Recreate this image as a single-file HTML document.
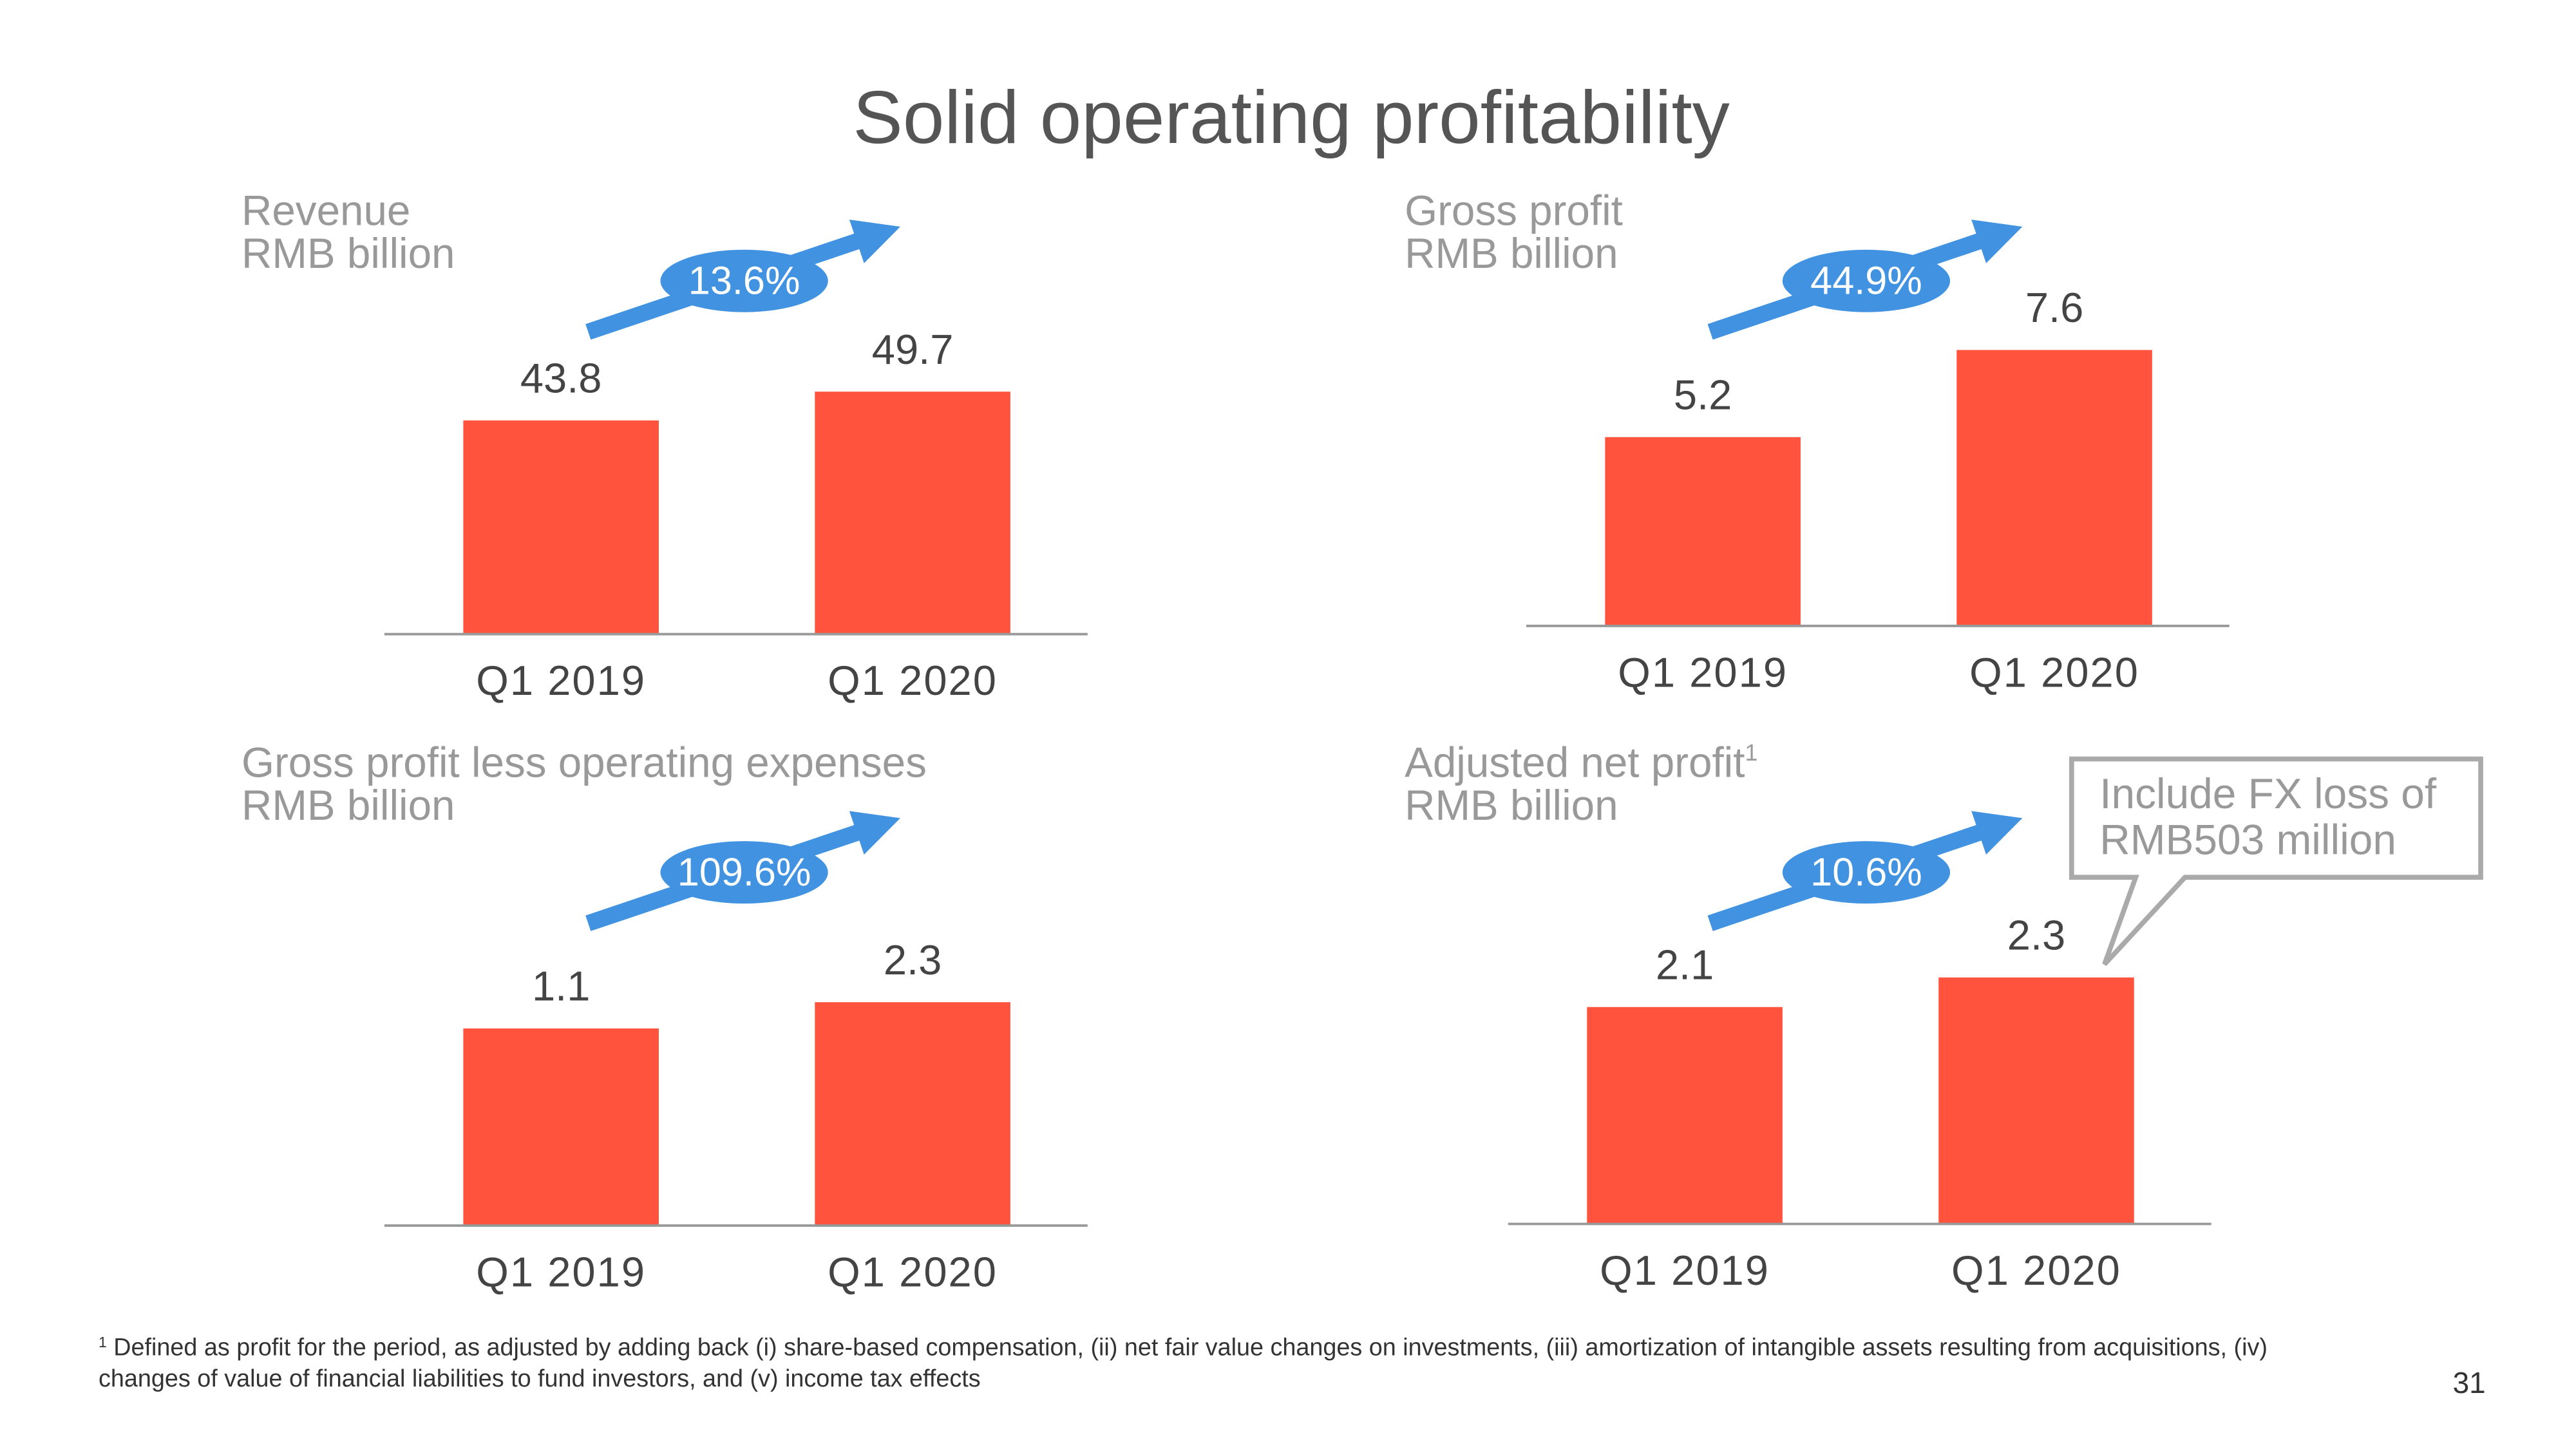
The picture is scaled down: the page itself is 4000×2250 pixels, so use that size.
<!DOCTYPE html>
<html><head><meta charset="utf-8"><style>
html,body{margin:0;padding:0;background:#fff}
svg{display:block}
text{font-family:"Liberation Sans",sans-serif}
</style></head><body>
<svg id="s" width="4000" height="2250" viewBox="0 0 1568 882" preserveAspectRatio="none">
<text x="786" y="87" text-anchor="middle" font-size="45.5" fill="#555">Solid operating profitability</text>
<text x="60" y="825" font-size="14.8" fill="#333"><tspan font-size="9" dy="-5">1</tspan><tspan dy="5"> Defined as profit for the period, as adjusted by adding back (i) share-based compensation, (ii) net fair value changes on investments, (iii) amortization of intangible assets resulting from acquisitions, (iv)</tspan></text>
<text x="60" y="844" font-size="14.8" fill="#333">changes of value of financial liabilities to fund investors, and (v) income tax effects</text>
<text x="1513" y="848" text-anchor="end" font-size="18" fill="#333">31</text>
<g>
<path d="M1261,462 H1510 V534 H1330 L1281,587 L1300,534 H1261 Z" fill="#fff" stroke="#aaa" stroke-width="3"/>
<text x="1278" y="492" font-size="25.8" fill="#999">Include FX loss of</text>
<text x="1278" y="520" font-size="25.8" fill="#999">RMB503 million</text>
</g>
</svg>
<script>
const categories = ["Q1 2019", "Q1 2020"];
const revenueValues = [43.8, 49.7];
const grossProfitValues = [5.2, 7.6];
const opProfitValues = [1.1, 2.3];
const adjNetValues = [2.1, 2.3];
const growthLabels = ["13.6%", "44.9%", "109.6%", "10.6%"];
const chartTitles = ["Revenue", "Gross profit", "Gross profit less operating expenses", "Adjusted net profit"];
const NS = "http://www.w3.org/2000/svg";
const svg = document.getElementById('s');
function mk(tag, attrs, parent) {
  const e = document.createElementNS(NS, tag);
  for (const k in attrs) e.setAttribute(k, attrs[k]);
  (parent || svg).appendChild(e);
  return e;
}
const charts = [
  {vals: revenueValues, bx: 282, base: 386, yMin: 0, ppu: 2.97, tx: 147, ty: 137, ax: 358, ay: 202},
  {vals: grossProfitValues, bx: 977, base: 381, yMin: 0, ppu: 22.1, tx: 855, ty: 137, ax: 1041, ay: 202},
  {vals: opProfitValues, bx: 282, base: 746, yMin: -7.9, ppu: 13.33, tx: 147, ty: 473, ax: 358, ay: 562},
  {vals: adjNetValues, bx: 966, base: 745, yMin: 0.633, ppu: 90, tx: 855, ty: 473, ax: 1041, ay: 562}
];
charts.forEach((c, i) => {
  const g = mk('g', {});
  
  
  const y = v => c.base - (v - c.yMin) * c.ppu;
  const xb = j => c.bx + j * 214;
  const t1 = mk('text', {x: c.tx, y: c.ty, 'font-size': 25.7, fill: '#999'}, g);
  t1.textContent = chartTitles[i];
  if (i === 3) { const sp = mk('tspan', {'font-size': 14, dy: -10}, t1); sp.textContent = '1'; }
  
  
  const t2 = mk('text', {x: c.tx, y: c.ty + 26, 'font-size': 25.7, fill: '#999'}, g);
  t2.textContent = 'RMB billion';
  
  
  c.vals.forEach((v, j) => {
    const r = mk('rect', {x: xb(j), y: y(v), width: 119, height: c.base - y(v), fill: '#ff533d'}, g);
    
    
    const vl = mk('text', {x: xb(j) + 59.5, y: y(v) - 17, 'text-anchor': 'middle', 'font-size': 25.5, fill: '#444'}, g);
    vl.textContent = v.toFixed(1);
    
    
    const cl = mk('text', {x: xb(j) + 59.5, y: c.base + 37, 'text-anchor': 'middle', 'font-size': 25.5, 'letter-spacing': 0.8, fill: '#444'}, g);
    cl.textContent = categories[j];
    
    
  });
  const ax = mk('line', {x1: c.bx - 48, x2: c.bx + 380, y1: c.base, y2: c.base, stroke: '#999', 'stroke-width': 1.5}, g);
  
  
  const x0 = c.ax, y0 = c.ay, x1 = c.ax + 190, y1 = c.ay - 64;
  const dx = x1 - x0, dy = y1 - y0, L = Math.hypot(dx, dy), ux = dx / L, uy = dy / L, nx = -uy, ny = ux;
  const hl = 28, sw = 5, hw = 14;
  const bx = x1 - ux * hl, by = y1 - uy * hl;
  const pts = [[x0 + nx * sw, y0 + ny * sw], [bx + nx * sw, by + ny * sw], [bx + nx * hw, by + ny * hw], [x1, y1], [bx - nx * hw, by - ny * hw], [bx - nx * sw, by - ny * sw], [x0 - nx * sw, y0 - ny * sw]];
  const ar = mk('polygon', {points: pts.map(p => p.join(',')).join(' '), fill: '#4193e2'}, g);
  
  
  const el = mk('ellipse', {cx: c.ax + 95, cy: c.ay - 31, rx: 51, ry: 19, fill: '#4193e2'}, g);
  
  
  const gt = mk('text', {x: c.ax + 95, y: c.ay - 23, 'text-anchor': 'middle', 'font-size': 24, fill: '#fff'}, g);
  gt.textContent = growthLabels[i];
  
  
});
</script>
</body></html>
